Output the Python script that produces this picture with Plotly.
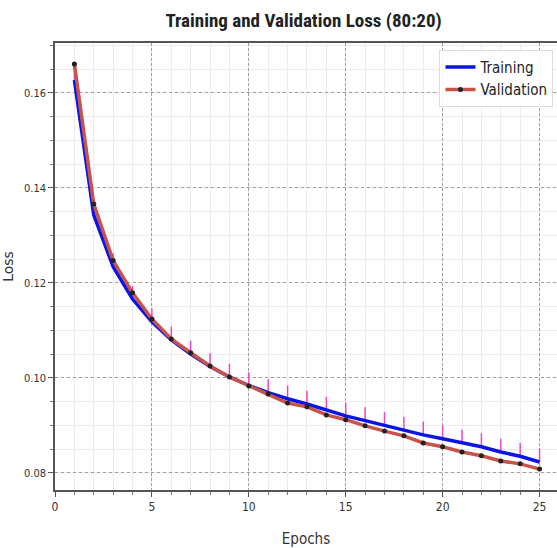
import plotly.graph_objects as go

epochs = list(range(1, 26))
train_loss = [0.1627, 0.1343, 0.1234, 0.1166, 0.1118, 0.1080, 0.1050, 0.1024, 0.1002,
              0.0984, 0.0969, 0.0956, 0.0945, 0.0932, 0.0920, 0.0910, 0.0900, 0.0890,
              0.0880, 0.0872, 0.0863, 0.0855, 0.0844, 0.0835, 0.0823]
val_loss = [0.1661, 0.1366, 0.1247, 0.1179, 0.1124, 0.1082, 0.1053, 0.1025, 0.1002,
            0.0983, 0.0966, 0.0947, 0.0939, 0.0922, 0.0912, 0.0899, 0.0888, 0.0878,
            0.0863, 0.0855, 0.0844, 0.0836, 0.0825, 0.0819, 0.0808]
train_spread = [0.0028] * 25

title_text = "Training and Validation Loss (80:20)"
x_title = "Epochs"
y_title = "Loss"
x_ticks = [0, 5, 10, 15, 20, 25]
y_ticks = [0.08, 0.10, 0.12, 0.14, 0.16]

narrow = "Liberation Sans Narrow, Roboto Condensed, DejaVu Sans Condensed, sans-serif"
cond = "DejaVu Sans Condensed, Liberation Sans Narrow, Roboto, sans-serif"

fig = go.Figure()
fig.add_trace(go.Scatter(
    x=epochs, y=train_loss, name="Training", mode="lines",
    line=dict(color="#0a14e6", width=3.5),
    error_y=dict(type="data", symmetric=False, array=train_spread,
                 arrayminus=[0] * 25, color="#ee44cc", thickness=1.5, width=0),
))
fig.add_trace(go.Scatter(
    x=epochs, y=val_loss, name="Validation", mode="lines+markers",
    line=dict(color="#c8534a", width=3.5),
    marker=dict(color="#222222", size=5),
))

fig.update_layout(
    width=557, height=548,
    margin=dict(l=55, r=0, t=43, b=58),
    paper_bgcolor="white", plot_bgcolor="white",
    title=dict(text="<b>" + title_text + "</b>", x=0.545, xanchor="center", y=0.962,
               yanchor="middle", font=dict(family=narrow, size=19, color="#222222")),
    showlegend=True,
    legend=dict(x=0.993, y=0.985, xanchor="right", yanchor="top",
                bgcolor="rgba(255,255,255,0.9)", bordercolor="#dddddd", borderwidth=1,
                font=dict(family=cond, size=15, color="#222222"),
                itemwidth=30, tracegroupgap=2),
    font=dict(family=cond, color="#333333"),
)

fig.update_xaxes(
    range=[0, 25.9], tickvals=x_ticks, ticktext=[str(v) for v in x_ticks],
    showline=True, linecolor="#555555", linewidth=1.5, mirror=True,
    ticks="outside", ticklen=5, tickcolor="#555555", tickfont=dict(size=12, color="#333333"),
    showgrid=True, gridcolor="#a0a0a0", gridwidth=1, griddash="3px,2px",
    zeroline=False,
    minor=dict(dtick=1, tick0=0, showgrid=True, gridcolor="#ececec", gridwidth=1,
               griddash="solid", ticks="outside", ticklen=3, tickcolor="#777777"),
    title=dict(text=x_title, font=dict(size=15, color="#333333"), standoff=22),
)
fig.update_yaxes(
    range=[0.0764, 0.1705], tickvals=y_ticks, ticktext=["%.2f" % v for v in y_ticks],
    showline=True, linecolor="#555555", linewidth=1.5,
    ticks="outside", ticklen=5, tickcolor="#555555", tickfont=dict(size=11, color="#333333"),
    showgrid=True, gridcolor="#a0a0a0", gridwidth=1, griddash="dot",
    zeroline=False,
    minor=dict(dtick=0.005, tick0=0.08, showgrid=True, gridcolor="#ececec", gridwidth=1,
               griddash="solid", ticks="outside", ticklen=3, tickcolor="#777777"),
    title=dict(text=y_title, font=dict(family="DejaVu Sans, sans-serif", size=14, color="#333333"),
               standoff=12),
)

fig.write_html("out.html")
